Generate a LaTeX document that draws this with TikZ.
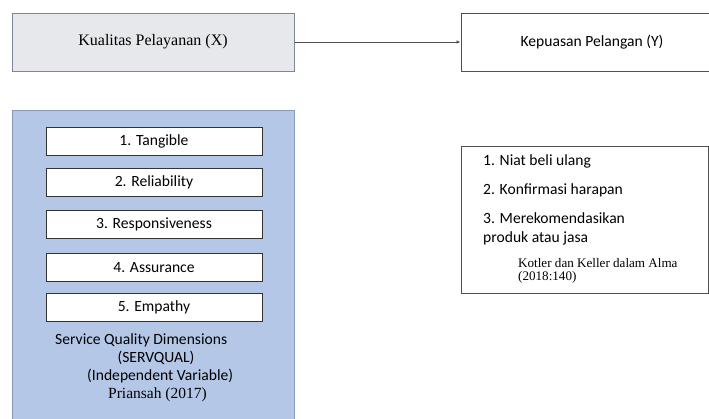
\documentclass[tikz,border=0pt]{standalone}
\usepackage{fontspec}
\setmainfont{Liberation Serif}
\newfontfamily\calib{Carlito}
\usetikzlibrary{arrows.meta}
\definecolor{xfill}{HTML}{E7E8EC}
\definecolor{xdraw}{HTML}{7D8797}
\definecolor{bluefill}{HTML}{B4C7E7}
\definecolor{bluedraw}{HTML}{8A9AB5}
\definecolor{linecol}{HTML}{505050}
\tikzset{
  mainbox/.style={draw=xdraw, line width=1pt, fill=xfill, minimum width=282pt, minimum height=58pt, inner sep=0pt, font=\fontsize{16}{19}\selectfont},
  ybox/.style={draw=linecol, line width=1pt, fill=white, minimum width=262pt, minimum height=58pt, inner sep=0pt, font=\calib\fontsize{15.6}{18}\selectfont},
  dimbox/.style={draw=black!80, line width=0.9pt, fill=white, minimum width=216pt, minimum height=28pt, inner sep=0pt, font=\calib\fontsize{15.6}{18}\selectfont},
  ctext/.style={inner sep=0pt, font=\calib\fontsize{15.6}{18}\selectfont},
  ttext/.style={inner sep=0pt, font=\fontsize{15.5}{18}\selectfont},
  ktext/.style={inner sep=0pt, font=\fontsize{13.1}{16}\selectfont, anchor=west},
}
\begin{document}
\begin{tikzpicture}[x=1pt,y=-1pt]
\useasboundingbox (0,0) rectangle (709,418);
\clip (0,0) rectangle (709,418);
\fill[white] (0,0) rectangle (709,418);
% top boxes
\node[mainbox] (X) at (153,42) {Kualitas Pelayanan (X)};
\node[ybox] (Y) at (592,42) {Kepuasan Pelangan (Y)};
\draw[linecol, line width=1pt, -{Latex[length=4pt,width=3.5pt]}] (X.east) -- (Y.west);
% blue panel
\node[draw=bluedraw, line width=1pt, fill=bluefill, minimum width=282pt, minimum height=320pt, inner sep=0pt, anchor=north west] (panel) at (12,110) {};
\node[dimbox] (d1) at (154,141) {1. Tangible};
\node[dimbox] (d2) at (154,182.5) {2. Reliability};
\node[dimbox] (d3) at (154,224) {3. Responsiveness};
\node[dimbox] (d4) at (154,267.5) {4. Assurance};
\node[dimbox] (d5) at (154,307.5) {5. Empathy};
\node[ctext, anchor=west] (s1) at (55,340) {Service Quality Dimensions};
\node[ctext] (s2) at (156,358) {(SERVQUAL)};
\node[ctext, anchor=west] (s3) at (87,376) {(Independent Variable)};
\node[ttext] (s4) at (157.5,395) {Priansah (2017)};
% right box
\node[draw=linecol, line width=1pt, fill=white, minimum width=247pt, minimum height=147pt, inner sep=0pt, anchor=north west] (R) at (461,146) {};
\node[ctext, anchor=west] (r1) at (483,161) {1. Niat beli ulang};
\node[ctext, anchor=west] (r2) at (483,190) {2. Konfirmasi harapan};
\node[ctext, anchor=west] (r3) at (483,218) {3. Merekomendasikan};
\node[ctext, anchor=west] (r4) at (483,238) {produk atau jasa};
\node[ktext] (k1) at (518,263) {Kotler dan Keller dalam Alma};
\node[ktext] (k2) at (518,277) {(2018:140)};
\end{tikzpicture}
\end{document}
